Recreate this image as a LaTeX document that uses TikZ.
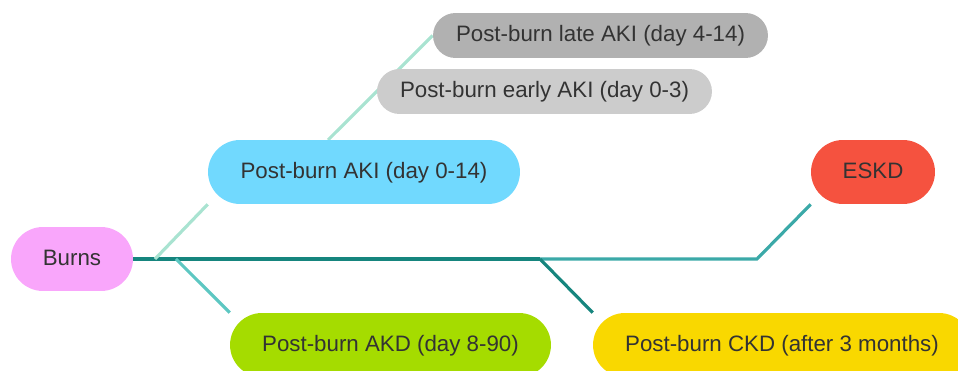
\documentclass[tikz,border=0pt]{standalone}
\usepackage{fontspec}
\setmainfont{Liberation Sans}
\usetikzlibrary{backgrounds}

\definecolor{burnpink}{HTML}{F9A6FB}
\definecolor{akiblue}{HTML}{71D9FE}
\definecolor{earlygrey}{HTML}{CCCCCC}
\definecolor{lategrey}{HTML}{B1B1B1}
\definecolor{eskdred}{HTML}{F5523F}
\definecolor{akdgreen}{HTML}{A5DC00}
\definecolor{ckdyellow}{HTML}{F9D800}
\definecolor{textgrey}{HTML}{333333}
\definecolor{trunkteal}{HTML}{16857E}
\definecolor{eskdteal}{HTML}{3BA9A8}
\definecolor{akimint}{HTML}{A9E3D1}
\definecolor{akdteal}{HTML}{5DC7C2}

\tikzset{
  pill/.style={rounded corners=0.64cm, minimum height=1.28cm, inner sep=0pt,
    text height=0.716em, text depth=0pt,
    text=textgrey, font=\fontsize{12.7}{15}\selectfont},
  smallpill/.style={pill, rounded corners=0.45cm, minimum height=0.9cm},
  branch/.style={line width=1.8pt},
}

\begin{document}
\begin{tikzpicture}[x=0.02cm, y=-0.02cm]
	% The picture is measured in pixels of the original, top left is (0, 0)
	\useasboundingbox (0, 0) rectangle (958, 371);

	% The root of the map sits at the left, on the trunk line
	\node[pill, fill=burnpink, minimum width=2.44cm] (burns) at (72, 259) {Burns};

	% The acute branch above the trunk, and its two sub phases hanging off a diagonal
	\node[pill, fill=akiblue, minimum width=6.24cm] (aki) at (364, 172) {Post-burn AKI (day 0-14)};
	\node[smallpill, fill=earlygrey, minimum width=6.7cm] (early) at (544.5, 91.5) {Post-burn early AKI (day 0-3)};
	\node[smallpill, fill=lategrey, minimum width=6.7cm] (late) at (600.5, 35.5) {Post-burn late AKI (day 4-14)};

	% The end stage at the far right
	\node[pill, fill=eskdred, minimum width=2.48cm] (eskd) at (873, 172) {ESKD};

	% The two later phases below the trunk (they run off the lower edge)
	\node[pill, fill=akdgreen, minimum width=6.42cm] (akd) at (390.5, 345) {Post-burn AKD (day 8-90)};
	\node[pill, fill=ckdyellow, minimum width=7.56cm] (ckd) at (782, 345) {Post-burn CKD (after 3 months)};

	% Points on the trunk where the branches leave it
	\coordinate (akifork) at (155, 259);
	\coordinate (akdfork) at (176, 259);
	\coordinate (ckdfork) at (540, 259);
	\coordinate (eskdbend) at (757, 259);
	\coordinate (akitop) at (328, 140);

	% All the lines go behind the boxes
	\begin{scope}[on background layer]
		% The trunk, dark up to the CKD fork, lighter on to the ESKD box
		\draw[branch, trunkteal] (burns.east) -- (ckdfork);
		\draw[branch, eskdteal] (ckdfork) -- (eskdbend) -- (eskd.south west);
		% Branches off the trunk
		\draw[branch, akimint] (akifork) -- (aki.south west);
		\draw[branch, akdteal] (akdfork) -- (akd.north west);
		\draw[branch, trunkteal] (ckdfork) -- (ckd.north west);
		% The diagonal from the AKI box up to its sub phases
		\draw[branch, akimint] (akitop) -- (late.west);
	\end{scope}
\end{tikzpicture}
\end{document}
